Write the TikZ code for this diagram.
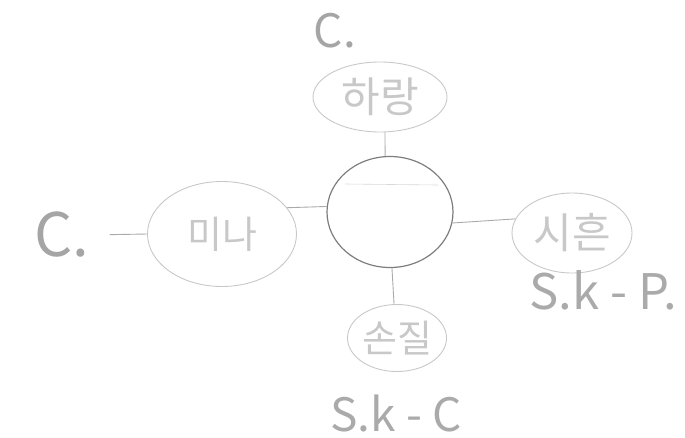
\documentclass[tikz,border=0pt]{standalone}
\usepackage{fontspec}
\setmainfont{Noto Sans CJK KR}
\usetikzlibrary{shapes.geometric, calc}
\definecolor{sketchgray}{RGB}{200,200,200}
\definecolor{hubgray}{RGB}{125,125,125}
\definecolor{textgray}{RGB}{200,200,200}
\definecolor{labelgray}{RGB}{165,165,165}

\begin{document}
\begin{tikzpicture}[x=1pt, y=-1pt,
    person/.style={ellipse, draw=sketchgray, line width=0.9pt, inner sep=0pt, text=textgray},
    tie/.style={draw=sketchgray!85!black, line width=0.9pt},
    tag/.style={text=labelgray, inner sep=0pt}]
  \useasboundingbox (0,0) rectangle (685,437);
  % Kern
  \node[ellipse, draw=hubgray, line width=1.2pt, minimum width=126pt, minimum height=111pt] (hub) at (390,212) {};
  \draw[sketchgray!70, line width=0.6pt] ($(hub.center)+(-45,-28)$) -- ($(hub.center)+(48,-27)$);
  % Personen
  \node[person, minimum width=134pt, minimum height=70pt, font=\fontsize{42}{42}\selectfont] (harang) at (380,97) {하랑};
  \node[person, minimum width=149pt, minimum height=105pt, font=\fontsize{38}{38}\selectfont] (mina) at (222,234) {미나};
  \node[person, minimum width=120pt, minimum height=80pt, font=\fontsize{42}{42}\selectfont] (sihun) at (572,233) {시흔};
  \node[person, minimum width=99pt, minimum height=67pt, font=\fontsize{38}{38}\selectfont] (sonjil) at (397,338) {손질};
  \path[tie] (hub.95) -- (harang.-82)
             (hub.175) -- (mina.22)
             (hub.-10) -- (sihun.166)
             (hub.-88) -- (sonjil.95);
  % Labels
  \node[tag, font=\fontsize{46}{46}\selectfont] (ctop) at (335,31) {C.};
  \node[tag, font=\fontsize{60}{60}\selectfont] (cleft) at (62,235) {C.};
  \node[tag, text=textgray!85!black, font=\fontsize{49}{49}\selectfont] (skp) at (603,290) {S.k - P.};
  \node[tag, text=textgray!85!black, font=\fontsize{46}{46}\selectfont] (skc) at (396,413) {S.k - C};
  \draw[tie, shorten <=20pt] (cleft.east) -- (mina.west);
\end{tikzpicture}
\end{document}
